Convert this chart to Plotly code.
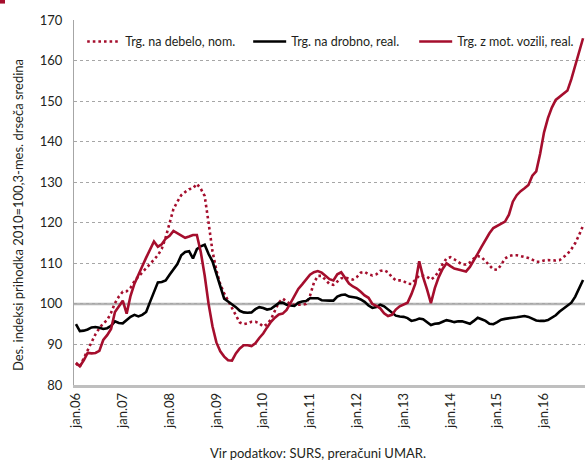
import plotly.graph_objects as go

tick_labels = ["jan.06", "jan.07", "jan.08", "jan.09", "jan.10", "jan.11",
               "jan.12", "jan.13", "jan.14", "jan.15", "jan.16"]

debelo_nom = [85.3, 84.5, 86.6, 88.6, 90.8, 92.5, 94.0, 95.2, 96.0, 97.8,
              100.2, 101.8, 103.0, 103.1, 104.0, 105.6, 106.7, 107.7, 108.7, 109.9,
              110.9, 112.0, 113.6, 116.4, 120.0, 123.4, 125.2, 126.8, 127.6, 128.3,
              128.5, 129.6, 128.4, 126.6, 120.0, 113.0, 108.3, 104.8, 102.6, 100.7,
              99.0, 97.3, 95.4, 95.0, 95.2, 95.6, 95.6, 95.2, 94.4, 95.0,
              96.2, 98.3, 100.3, 101.3, 100.5, 99.9, 99.8, 99.8, 99.8, 100.0,
              102.0, 105.2, 106.9, 106.9, 106.0, 104.9, 104.7, 105.6, 106.3, 106.5,
              106.3, 106.0, 106.6, 107.7, 107.9, 107.3, 107.0, 107.3, 108.1, 108.3,
              107.8, 106.6, 105.8, 105.8, 105.6, 105.0, 104.9, 106.0, 107.0, 106.9,
              106.7, 106.0, 106.7, 108.0, 109.8, 111.2, 111.5, 111.0, 110.3, 109.7,
              109.7, 110.2, 111.2, 111.8, 111.5, 110.5, 109.3, 108.5, 108.4, 109.6,
              111.2, 111.8, 112.0, 112.0, 111.8, 111.6, 111.3, 110.9, 110.4, 110.4,
              110.7, 110.8, 110.7, 110.7, 110.8, 111.5, 112.3, 113.5, 115.0, 117.0,
              119.3]

drobno_real = [95.0, 93.3, 93.4, 93.7, 94.2, 94.3, 94.1, 93.8, 94.0, 94.6,
               95.7, 95.3, 95.2, 96.0, 96.8, 97.3, 96.9, 97.3, 98.0, 100.5,
               103.0, 105.3, 105.4, 105.8, 107.2, 108.5, 109.8, 112.0, 112.8, 113.0,
               111.2, 113.5, 114.2, 114.6, 112.3, 110.5, 107.5, 104.0, 101.3, 100.6,
               100.0, 99.2, 98.3, 97.9, 97.8, 97.9, 98.7, 99.2, 99.0, 98.6,
               98.8, 99.6, 100.2, 100.3, 99.8, 99.6, 99.5, 100.3, 100.6, 100.7,
               101.4, 101.4, 101.4, 100.9, 100.8, 100.8, 100.8, 101.8, 102.2, 102.3,
               101.8, 101.7, 101.5, 101.1, 100.5, 99.6, 99.0, 99.2, 99.8, 99.4,
               98.6, 97.7, 97.1, 96.9, 96.8, 96.5, 95.8, 96.0, 96.4, 96.2,
               95.6, 94.8, 95.1, 95.2, 95.6, 96.0, 95.8, 95.5, 95.7, 95.7,
               95.4, 95.1, 95.8, 96.6, 96.2, 95.8, 95.1, 95.0, 95.5, 96.1,
               96.3, 96.5, 96.6, 96.7, 96.9, 97.0, 96.8, 96.4, 95.9, 95.8,
               95.8, 96.0, 96.5, 97.2, 98.1, 98.9, 99.6, 100.3, 101.8, 103.8,
               105.9]

motorna_real = [85.5, 84.6, 86.1, 87.9, 87.8, 87.9, 88.4, 91.1, 92.3, 93.8,
                98.0, 99.5, 100.8, 97.6, 102.0, 105.0, 107.3, 109.3, 111.4, 113.4,
                115.4, 114.1, 114.7, 116.1, 116.8, 118.0, 117.4, 116.8, 116.3, 116.6,
                117.0, 117.0, 112.8, 107.0, 100.0, 94.5, 90.5, 88.3, 87.0, 86.1,
                86.0, 87.8, 89.0, 89.8, 89.8, 89.6, 90.3, 91.6, 92.7, 94.2,
                95.6, 96.6, 97.4, 97.6, 98.5, 100.2, 102.0, 103.7, 104.8, 106.0,
                107.2, 107.8, 108.1, 107.7, 107.0, 106.1, 105.8, 107.3, 107.8, 106.4,
                105.0, 104.3, 103.8, 103.0, 102.1, 101.5, 100.0, 99.5, 98.9, 97.7,
                97.0, 97.3, 98.6, 99.4, 99.8, 100.3, 102.4, 105.0, 110.5, 106.6,
                103.6, 100.2, 103.9, 106.6, 108.6, 110.0, 109.3, 108.7, 108.5, 108.3,
                108.0, 109.1, 110.6, 112.4, 114.1, 115.9, 117.4, 118.7, 119.2, 119.7,
                120.3, 122.0, 125.2, 126.8, 127.8, 128.5, 129.3, 131.6, 132.7, 137.0,
                142.3, 145.8, 148.4, 150.3, 151.0, 151.7, 152.6, 155.4, 158.6, 161.9,
                165.5]

months = list(range(len(drobno_real)))
RED = "#A50E2D"
FONT = "Lato"

fig = go.Figure()
fig.add_trace(go.Scatter(x=months, y=debelo_nom, mode="lines", name="Trg. na debelo, nom.",
                         line=dict(color=RED, width=2.6, dash="2.6px,3px")))
fig.add_trace(go.Scatter(x=months, y=drobno_real, mode="lines", name="Trg. na drobno, real.",
                         line=dict(color="#000000", width=2.6)))
fig.add_trace(go.Scatter(x=months, y=motorna_real, mode="lines", name="Trg. z mot. vozili, real.",
                         line=dict(color=RED, width=2.6)))

fig.update_layout(
    width=585, height=462,
    margin=dict(l=74, r=0, t=20, b=77),
    paper_bgcolor="white", plot_bgcolor="white",
    font=dict(family=FONT, size=13, color="#231F20"),
    showlegend=True,
    legend=dict(orientation="h", x=0.016, y=0.94, xanchor="left", yanchor="middle",
                font=dict(size=12.5), bgcolor="rgba(0,0,0,0)", itemwidth=33,
                entrywidth=118, entrywidthmode="pixels", tracegroupgap=0),
    xaxis=dict(range=[-0.5, 130.5], tickmode="array",
               tickvals=[12 * k for k in range(len(tick_labels))], ticktext=tick_labels,
               tickangle=-90, showgrid=False, zeroline=False,
               showline=True, linecolor="#BFBFBF", linewidth=2.5,
               ticks="", tickfont=dict(size=13)),
    yaxis=dict(range=[80, 170], dtick=10, tick0=80, showgrid=True, gridcolor="#A6A6A6",
               griddash="dot", gridwidth=1, zeroline=False,
               showline=True, linecolor="#A6A6A6", linewidth=1,
               ticks="", tickfont=dict(size=13), ticklabelstandoff=8),
    shapes=[
        dict(type="line", xref="paper", yref="y", x0=0, x1=1, y0=100, y1=100,
             line=dict(color="#B5B5B5", width=2.5), layer="below"),
        dict(type="rect", xref="paper", yref="paper", x0=-0.146, x1=-0.135, y0=1.045, y1=1.06,
             fillcolor=RED, line=dict(width=0)),
    ],
    annotations=[
        dict(text="Des. indeksi prihodka 2010=100,3-mes. drseča sredina",
             xref="paper", yref="paper", x=-0.11, y=0.465, textangle=-90,
             showarrow=False, font=dict(size=13), xanchor="center", yanchor="middle"),
        dict(text="Vir podatkov: SURS, preračuni UMAR.",
             xref="paper", yref="paper", x=0.478, y=-0.186, showarrow=False,
             font=dict(size=13), xanchor="center", yanchor="middle"),
    ],
)

fig.write_html("out.html", config={"displayModeBar": False},
               post_script="document.body.style.margin='0';")
